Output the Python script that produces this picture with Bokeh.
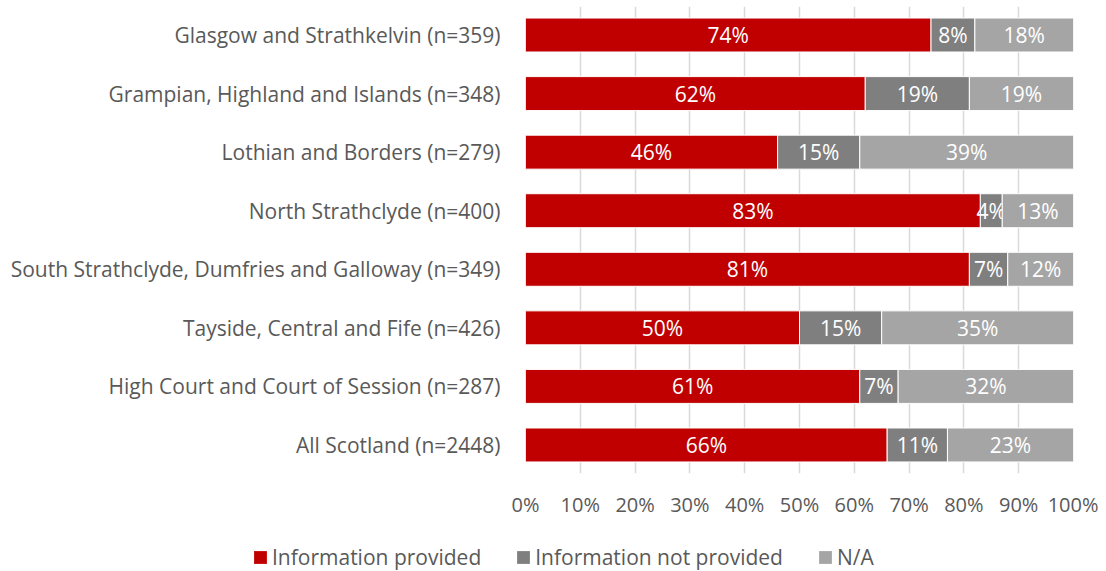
from bokeh.plotting import figure
from bokeh.models import (Range1d, FixedTicker, PrintfTickFormatter, Legend, LegendItem,
                          ColumnDataSource)
from bokeh.core.properties import value
from bokeh.embed import file_html
from bokeh.resources import INLINE

categories = [
    "Glasgow and Strathkelvin (n=359)",
    "Grampian, Highland and Islands (n=348)",
    "Lothian and Borders (n=279)",
    "North Strathclyde (n=400)",
    "South Strathclyde, Dumfries and Galloway (n=349)",
    "Tayside, Central and Fife (n=426)",
    "High Court and Court of Session (n=287)",
    "All Scotland (n=2448)",
]
provided = [74, 62, 46, 83, 81, 50, 61, 66]
not_provided = [8, 19, 15, 4, 7, 15, 7, 11]
na = [18, 19, 39, 13, 12, 35, 32, 23]
series_names = ["Information provided", "Information not provided", "N/A"]
series_colors = ["#C00000", "#7F7F7F", "#A5A5A5"]
x_ticks = list(range(0, 101, 10))

FONT = "Open Sans"
TXT = "#595959"
W = 1098

n = len(categories)
ys = [n - 1 - i for i in range(n)]

p = figure(width=W, height=527, output_backend="svg", toolbar_location=None,
           x_range=Range1d(0, 100), y_range=Range1d(-0.487, n - 1 + 0.487),
           min_border_left=525, min_border_right=25, min_border_top=6, min_border_bottom=54)
p.outline_line_color = None

left = [0.0] * n
for vals, col in zip([provided, not_provided, na], series_colors):
    right = [l + v for l, v in zip(left, vals)]
    src = ColumnDataSource(dict(y=ys, left=left, right=right,
                                mid=[(l + r) / 2 for l, r in zip(left, right)],
                                lab=[f"{v}%" for v in vals]))
    p.hbar(y="y", left="left", right="right", height=0.58, source=src,
           fill_color=col, line_color="white", line_width=1)
    p.text(x="mid", y="y", text="lab", source=src, text_color="white",
           text_font=value(FONT), text_font_size="21px", text_align="center",
           text_baseline="middle")
    left = right

p.xaxis.ticker = FixedTicker(ticks=x_ticks)
p.xaxis.formatter = PrintfTickFormatter(format="%d%%")
p.xaxis.axis_line_color = None
p.xaxis.major_tick_line_color = None
p.xaxis.minor_tick_line_color = None
p.xaxis.major_tick_out = 0
p.xaxis.major_tick_in = 0
p.xaxis.major_label_standoff = 17
p.xaxis.major_label_text_font = FONT
p.xaxis.major_label_text_font_size = "20px"
p.xaxis.major_label_text_color = TXT

p.yaxis.ticker = FixedTicker(ticks=ys)
p.yaxis.major_label_overrides = {y: c for y, c in zip(ys, categories)}
p.yaxis.axis_line_color = None
p.yaxis.major_tick_line_color = None
p.yaxis.minor_tick_line_color = None
p.yaxis.major_tick_out = 0
p.yaxis.major_tick_in = 0
p.yaxis.major_label_standoff = 25
p.yaxis.major_label_text_font = FONT
p.yaxis.major_label_text_font_size = "21px"
p.yaxis.major_label_text_color = TXT

p.xgrid.ticker = FixedTicker(ticks=x_ticks)
p.xgrid.grid_line_color = "#D9D9D9"
p.xgrid.grid_line_width = 1.5
p.ygrid.grid_line_color = None

# legend strip (separate root so its frame spans the full width)
lg = figure(width=W, height=44, output_backend="svg", toolbar_location=None,
            x_range=Range1d(0, 1), y_range=Range1d(0, 1),
            min_border_left=0, min_border_right=0, min_border_top=0, min_border_bottom=0)
lg.axis.visible = False
lg.grid.visible = False
lg.outline_line_color = None
items = []
for nm, col in zip(series_names, series_colors):
    r = lg.hbar(y=[float("nan")], left=[float("nan")], right=[float("nan")], height=0.5,
                fill_color=col, line_color=None)
    items.append(LegendItem(label=nm, renderers=[r]))
legend = Legend(items=items, orientation="horizontal", location=(252, 0),
                glyph_width=16, glyph_height=16, label_standoff=4, spacing=34,
                padding=0, margin=0, border_line_color=None, background_fill_alpha=0,
                label_text_font=FONT, label_text_font_size="21px", label_text_color=TXT)
lg.add_layout(legend, "center")

open("out.html", "w").write(file_html([p, lg], INLINE))
